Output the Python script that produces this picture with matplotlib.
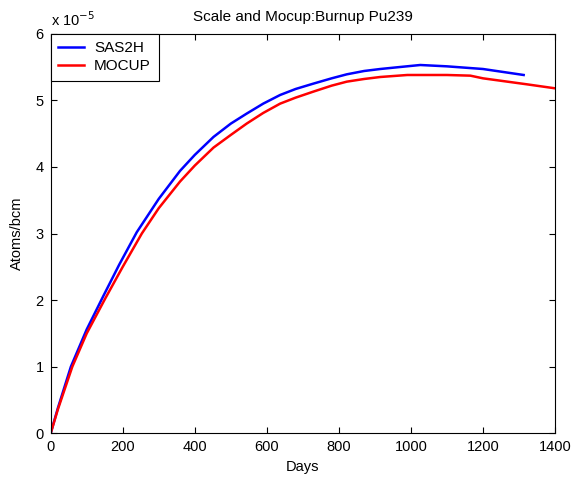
import matplotlib
matplotlib.use('Agg')
import matplotlib.pyplot as plt

plt.rcParams['font.family'] = ['Liberation Sans', 'DejaVu Sans']
plt.rcParams['font.size'] = 10.5

# days and Pu239 atom density (units of 1e-5 atoms/bcm)
sas2h_days = [0, 20, 56, 100, 146, 190, 239, 300, 359, 400, 452, 500, 544, 590,
              637, 680, 729, 780, 822, 870, 915, 970, 1026, 1100, 1200, 1313]
sas2h_vals = [0.0, 0.38, 1.0, 1.56, 2.06, 2.53, 3.02, 3.52, 3.94, 4.18, 4.45, 4.65, 4.80, 4.95,
              5.08, 5.17, 5.25, 5.33, 5.39, 5.44, 5.47, 5.50, 5.53, 5.51, 5.47, 5.38]

mocup_days = [0, 20, 60, 100, 151, 200, 253, 300, 359, 400, 452, 500, 544, 590,
              637, 680, 729, 780, 822, 870, 915, 990, 1100, 1165, 1200, 1322, 1400]
mocup_vals = [0.0, 0.36, 1.0, 1.5, 2.02, 2.5, 3.0, 3.38, 3.78, 4.02, 4.29, 4.48, 4.65, 4.81,
              4.95, 5.04, 5.13, 5.22, 5.28, 5.32, 5.35, 5.38, 5.38, 5.37, 5.33, 5.24, 5.18]

fig = plt.figure(figsize=(5.8, 4.78), dpi=100)
ax = fig.add_axes([0.0874, 0.0935, 0.8695, 0.836])

ax.plot(sas2h_days, sas2h_vals, color='blue', linewidth=1.8, label='SAS2H')
ax.plot(mocup_days, mocup_vals, color='red', linewidth=1.8, label='MOCUP')

ax.set_xlim(0, 1400)
ax.set_ylim(0, 6)
ax.set_xticks(range(0, 1401, 200))
ax.set_yticks(range(0, 7))
ax.tick_params(direction='in', top=True, right=True, length=4, width=0.8, pad=5)
for s in ax.spines.values():
    s.set_linewidth(0.8)

ax.set_xlabel('Days', labelpad=4)
ax.set_ylabel('Atoms/bcm', labelpad=8)
ax.set_title('Scale and Mocup:Burnup Pu239', fontsize=11, pad=9)
ax.text(0.0, 1.02, r'x 10$^{-5}$', transform=ax.transAxes, ha='left', va='baseline', fontsize=10.5)

leg = ax.legend(loc='upper left', borderaxespad=0, fancybox=False, edgecolor='black',
                framealpha=1, fontsize=11, handlelength=1.7, handletextpad=0.65,
                borderpad=0.5, labelspacing=0.25)
leg.get_frame().set_linewidth(0.8)

fig.savefig('out.png', dpi=100)
